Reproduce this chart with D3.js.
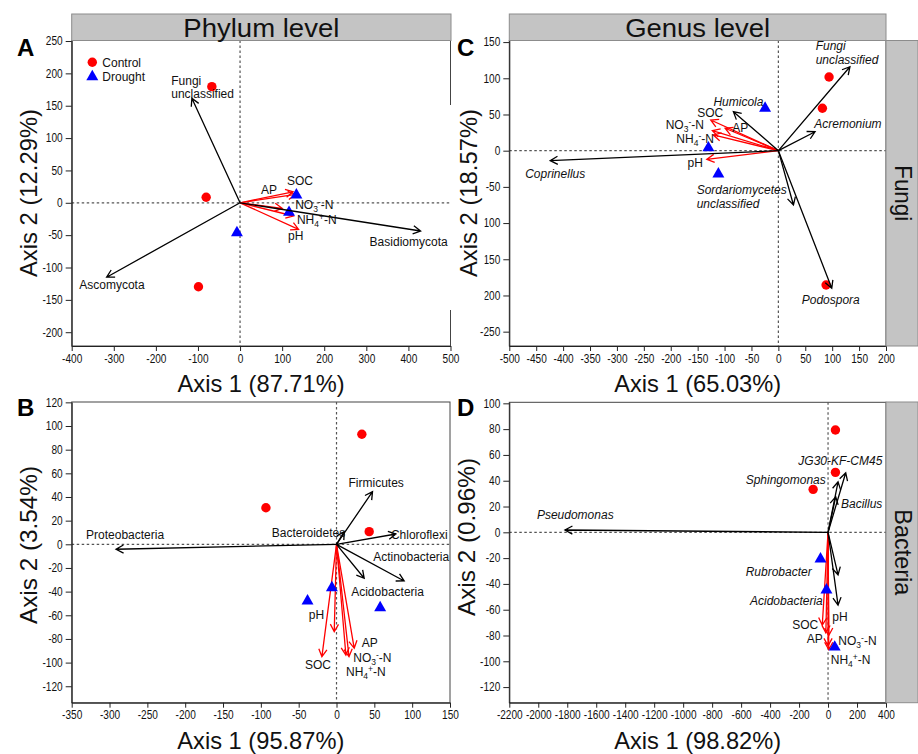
<!DOCTYPE html>
<html>
<head>
<meta charset="utf-8">
<script src="https://cdn.jsdelivr.net/npm/d3@7"></script>
<style>
  body { margin: 0; background: #fff; }
  svg { display: block; }
  text { font-family: "Liberation Sans", Arial, Helvetica, sans-serif; }
</style>
</head>
<body>
<svg id="fig" width="918" height="754"></svg>
<script>
// ---------------- Panel A: fungi, phylum level ----------------
const aControl = [[-67, 179.5], [-80.5, 8.5], [-98.8, -129.7]];
const aDrought = [[-7.4, -46.2], [133.8, 12], [116.4, -14.7]];
const aTaxa = [
  { name: "Fungi unclassified", x: -114.5, y: 161.5 },
  { name: "Ascomycota", x: -317, y: -115 },
  { name: "Basidiomycota", x: 429, y: -43.6 }
];
const aEnv = [
  { name: "SOC", x: 132, y: 13 },
  { name: "AP", x: 126, y: 17 },
  { name: "NO3--N", x: 100, y: -8.5 },
  { name: "NH4+-N", x: 127, y: -20.4 },
  { name: "pH", x: 139, y: -41 }
];
const aXTicks = [-400, -300, -200, -100, 0, 100, 200, 300, 400, 500];
const aYTicks = [250, 200, 150, 100, 50, 0, -50, -100, -150, -200];

// ---------------- Panel C: fungi, genus level ----------------
const cControl = [[94.2, 101.8], [81.8, 58.6], [88.7, -185.5]];
const cDrought = [[-24.7, 58.6], [-130, 4], [-111.5, -32.2]];
const cTaxa = [
  { name: "Fungi unclassified", x: 133, y: 116 },
  { name: "Acremonium", x: 68.2, y: 26.2 },
  { name: "Humicola", x: -83.6, y: 53.9 },
  { name: "Coprinellus", x: -424, y: -13.8 },
  { name: "Sordariomycetes unclassified", x: 28, y: -75 },
  { name: "Podospora", x: 99.2, y: -190 }
];
const cEnv = [
  { name: "SOC", x: -125.7, y: 42.4 },
  { name: "NO3--N", x: -122.7, y: 27.6 },
  { name: "AP", x: -99, y: 31 },
  { name: "NH4--N", x: -120.8, y: 21.7 },
  { name: "pH", x: -133, y: -11.9 }
];
const cXTicks = [-500, -450, -400, -350, -300, -250, -200, -150, -100, -50, 0, 50, 100, 150, 200];
const cYTicks = [150, 100, 50, 0, -50, -100, -150, -200, -250];

// ---------------- Panel B: bacteria, phylum level ----------------
const bControl = [[33.5, 93], [-93.3, 30.9], [43.2, 10.7]];
const bDrought = [[-6.1, -36.7], [-38.3, -47.9], [57.7, -53.6]];
const bTaxa = [
  { name: "Proteobacteria", x: -291.4, y: -4.2 },
  { name: "Firmicutes", x: 47.6, y: 44.5 },
  { name: "Bacteroidetes", x: 10.2, y: 10.7 },
  { name: "Chloroflexi", x: 78.5, y: 8.7 },
  { name: "Actinobacteria", x: 89.4, y: -31 },
  { name: "Acidobacteria", x: 36.6, y: -28.7 }
];
const bEnv = [
  { name: "pH", x: -3, y: -73.9 },
  { name: "SOC", x: -19.3, y: -95 },
  { name: "AP", x: 23.4, y: -87.9 },
  { name: "NO3--N", x: 12.4, y: -93.6 },
  { name: "NH4+-N", x: 16.5, y: -95 }
];
const bXTicks = [-350, -300, -250, -200, -150, -100, -50, 0, 50, 100, 150];
const bYTicks = [120, 100, 80, 60, 40, 20, 0, -20, -40, -60, -80, -100, -120];

// ---------------- Panel D: bacteria, genus level ----------------
const dControl = [[51, 79.3], [51, 46.5], [-103, 33.3]];
const dDrought = [[-52, -20.7], [-11, -44.7], [46, -89]];
const dTaxa = [
  { name: "Pseudomonas", x: -1816, y: 1.8 },
  { name: "JG30-KF-CM45", x: 122, y: 46.2 },
  { name: "Sphingomonas", x: 69, y: 39.2 },
  { name: "Bacillus", x: 53, y: 27.6 },
  { name: "Rubrobacter", x: 69, y: -33 },
  { name: "Acidobacteria", x: 69, y: -56.4 }
];
const dEnv = [
  { name: "SOC", x: -40, y: -72 },
  { name: "AP", x: -15, y: -78 },
  { name: "pH", x: 5, y: -80 },
  { name: "NO3--N", x: 0, y: -88 },
  { name: "NH4+-N", x: 5, y: -91 }
];
const dXTicks = [-2200, -2000, -1800, -1600, -1400, -1200, -1000, -800, -600, -400, -200, 0, 200, 400];
const dYTicks = [100, 80, 60, 40, 20, 0, -20, -40, -60, -80, -100, -120];

// Label placement (pixel offsets from arrow tips, text anchor)
const aPlace = {
  "Fungi unclassified": [-20.6, -13.3, "start"], "Ascomycota": [-27.4, 12, "start"],
  "Basidiomycota": [-51, 14.7, "start"], "SOC": [-8.7, -9.4, "start"], "AP": [-32, 2.2, "start"],
  "NO3--N": [13, 0.5, "start"], "NH4+-N": [3.4, 7.8, "start"], "pH": [-10.6, 10.7, "start"]
};
const cPlace = {
  "Fungi unclassified": [-34.3, -16.5, "start"], "Acremonium": [-0.8, -4.2, "start"],
  "Humicola": [-20, -6, "start"], "SOC": [-13.5, -3, "start"], "NO3--N": [-8.4, -2, "end"],
  "AP": [7.2, 4.2, "start"], "NH4--N": [0.6, 8.2, "end"], "pH": [-4, 7.6, "end"],
  "Coprinellus": [-25, 17, "start"], "Sordariomycetes unclassified": [-96.8, -10.8, "start"],
  "Podospora": [-30, 16, "start"]
};
const bPlace = {
  "Proteobacteria": [-30, -10, "start"], "Firmicutes": [-24, -4.4, "start"],
  "Bacteroidetes": [1, 5.7, "end"], "Chloroflexi": [-5, 5, "start"],
  "Actinobacteria": [-31, -20, "start"], "Acidobacteria": [-13, 17.5, "start"],
  "SOC": [-17, 12.7, "start"], "pH": [-25.5, -12.4, "start"], "AP": [7.5, -1, "start"],
  "NO3--N": [7.4, 6.7, "start"], "NH4+-N": [-3, 19.8, "start"]
};
const dPlace = {
  "Pseudomonas": [-28, -10.7, "start"], "JG30-KF-CM45": [-47.4, -7.7, "start"],
  "Sphingomonas": [-12.3, 2, "end"], "Bacillus": [5.3, 11.6, "start"],
  "Rubrobacter": [-26.3, 1, "end"], "Acidobacteria": [-15.3, 0, "end"],
  "SOC": [-4, 3.8, "end"], "AP": [-3, 10.5, "end"], "pH": [3.6, -14.5, "start"],
  "NO3--N": [10.3, -0.8, "start"], "NH4+-N": [2, 14, "start"]
};

// Chemical names with sub/superscripts
const richNames = {
  "NO3--N": [["NO", ""], ["3", "sub"], ["-", "sup"], ["-N", ""]],
  "NH4+-N": [["NH", ""], ["4", "sub"], ["+", "sup"], ["-N", ""]],
  "NH4--N": [["NH", ""], ["4", "sub"], ["-", "sup"], ["-N", ""]]
};

const panels = [
  { letter: "A", frame: [71.7, 40.5, 450.5, 346], xDomain: [-400, 500], yDomain: [-221.3, 250.8],
    xTicks: aXTicks, yTicks: aYTicks, control: aControl, drought: aDrought, taxa: aTaxa, env: aEnv,
    place: aPlace, italic: false, xTitle: "Axis 1 (87.71%)", yTitle: "Axis 2 (12.29%)",
    letterPos: [17, 56], yTitlePos: [37, 193], legend: true },
  { letter: "C", frame: [509.3, 40.5, 886, 346], xDomain: [-500, 200], yDomain: [-269.8, 152.2],
    xTicks: cXTicks, yTicks: cYTicks, control: cControl, drought: cDrought, taxa: cTaxa, env: cEnv,
    place: cPlace, italic: true, xTitle: "Axis 1 (65.03%)", yTitle: "Axis 2 (18.57%)",
    letterPos: [457, 56], yTitlePos: [477, 193], titleMask: true },
  { letter: "B", frame: [71.7, 402, 450, 702.7], xDomain: [-350, 150], yDomain: [-133.9, 120.3],
    xTicks: bXTicks, yTicks: bYTicks, control: bControl, drought: bDrought, taxa: bTaxa, env: bEnv,
    place: bPlace, italic: false, xTitle: "Axis 1 (95.87%)", yTitle: "Axis 2 (3.54%)",
    letterPos: [17, 416], yTitlePos: [37, 545] },
  { letter: "D", frame: [509.3, 402.3, 886, 702.7], xDomain: [-2200, 400], yDomain: [-132.1, 100.8],
    xTicks: dXTicks, yTicks: dYTicks, control: dControl, drought: dDrought, taxa: dTaxa, env: dEnv,
    place: dPlace, italic: true, xTitle: "Axis 1 (98.82%)", yTitle: "Axis 2 (0.96%)",
    letterPos: [457, 416], yTitlePos: [475, 537] }
];

const RED = "#ff0000", BLUE = "#0000ff";
const svg = d3.select("#fig");
svg.append("rect").attr("width", 918).attr("height", 754).attr("fill", "#fff");

function squeeze(sel, k) {
  sel.each(function () {
    const w = this.getComputedTextLength();
    if (w > 0) {
      this.setAttribute("textLength", (w * k).toFixed(2));
      this.setAttribute("lengthAdjust", "spacingAndGlyphs");
    }
  });
}

function arrowPath(x0, y0, x1, y1) {
  const len = 8.5, ang = 0.5;
  const a = Math.atan2(y1 - y0, x1 - x0);
  const hx1 = x1 - len * Math.cos(a - ang), hy1 = y1 - len * Math.sin(a - ang);
  const hx2 = x1 - len * Math.cos(a + ang), hy2 = y1 - len * Math.sin(a + ang);
  return `M${x0},${y0}L${x1},${y1}M${hx1},${hy1}L${x1},${y1}L${hx2},${hy2}`;
}

function writeName(textSel, name) {
  const parts = richNames[name];
  if (!parts) { textSel.text(name); return; }
  let shift = 0;
  parts.forEach(([s, kind]) => {
    const t = textSel.append("tspan").text(s);
    let target = 0;
    if (kind === "sub") { target = 3; t.attr("font-size", "8.5px"); }
    else if (kind === "sup") { target = -4; t.attr("font-size", "8.5px"); }
    t.attr("dy", target - shift);
    shift = target;
  });
}

function drawLabel(g, x, y, name, anchor, italic) {
  const lines = name.endsWith(" unclassified")
    ? [name.replace(" unclassified", ""), "unclassified"] : [name];
  lines.forEach((ln, i) => {
    const t = g.append("text")
      .attr("x", x).attr("y", y + i * 13.5)
      .attr("text-anchor", anchor)
      .attr("font-size", "12px")
      .attr("fill", "#111")
      .attr("font-style", italic ? "italic" : "normal");
    writeName(t, ln);
  });
}

panels.forEach(p => {
  const [fx0, fy0, fx1, fy1] = p.frame;
  const x = d3.scaleLinear().domain(p.xDomain).range([fx0, fx1]);
  const y = d3.scaleLinear().domain(p.yDomain).range([fy1, fy0]);
  const g = svg.append("g");

  // frame
  g.append("rect").attr("x", fx0).attr("y", fy0).attr("width", fx1 - fx0).attr("height", fy1 - fy0)
    .attr("fill", "#fff").attr("stroke", "#444").attr("stroke-width", 1);

  // zero reference lines
  g.append("line").attr("x1", x(0)).attr("x2", x(0)).attr("y1", fy0).attr("y2", fy1)
    .attr("stroke", "#555").attr("stroke-width", 1.2).attr("stroke-dasharray", "2.5,2.5");
  g.append("line").attr("x1", fx0).attr("x2", fx1).attr("y1", y(0)).attr("y2", y(0))
    .attr("stroke", "#555").attr("stroke-width", 1.2).attr("stroke-dasharray", "2.5,2.5");

  // environmental vectors (red)
  g.selectAll(".env").data(p.env).join("path")
    .attr("d", d => arrowPath(x(0), y(0), x(d.x), y(d.y)))
    .attr("fill", "none").attr("stroke", RED).attr("stroke-width", 1.3);

  // samples
  g.selectAll(".ctl").data(p.control).join("circle")
    .attr("cx", d => x(d[0])).attr("cy", d => y(d[1])).attr("r", 4.7).attr("fill", RED);
  g.selectAll(".drt").data(p.drought).join("path")
    .attr("d", d3.symbol(d3.symbolTriangle, 62)())
    .attr("transform", d => `translate(${x(d[0])},${y(d[1])})`).attr("fill", BLUE);

  // taxon vectors (black)
  g.selectAll(".taxa").data(p.taxa).join("path")
    .attr("d", d => arrowPath(x(0), y(0), x(d.x), y(d.y)))
    .attr("fill", "none").attr("stroke", "#000").attr("stroke-width", 1.3);

  // labels
  p.taxa.forEach(d => {
    const [dx, dy, anc] = p.place[d.name];
    drawLabel(g, x(d.x) + dx, y(d.y) + dy, d.name, anc, p.italic);
  });
  p.env.forEach(d => {
    const [dx, dy, anc] = p.place[d.name];
    drawLabel(g, x(d.x) + dx, y(d.y) + dy, d.name, anc, false);
  });

  // axes
  const ax = g.append("g").attr("transform", `translate(0,${fy1})`)
    .call(d3.axisBottom(x).tickValues(p.xTicks).tickFormat(d => String(d))
      .tickSize(5).tickSizeOuter(0).tickPadding(3));
  const ay = g.append("g").attr("transform", `translate(${fx0},0)`)
    .call(d3.axisLeft(y).tickValues(p.yTicks).tickFormat(d => String(d))
      .tickSize(6).tickSizeOuter(0).tickPadding(3));
  [ax, ay].forEach(a => {
    a.select(".domain").attr("stroke", "#222");
    a.selectAll(".tick line").attr("stroke", "#222");
    a.selectAll("text").attr("font-family", '"Liberation Sans", Arial, sans-serif')
      .attr("font-size", "12px").attr("fill", "#111");
    squeeze(a.selectAll("text"), 0.84);
  });

  // axis titles
  if (p.titleMask) {
    g.append("rect").attr("x", 450).attr("y", p.yTitlePos[1] - 88)
      .attr("width", 34.5).attr("height", 205).attr("fill", "#fff");
  }
  g.append("text").attr("x", (fx0 + fx1) / 2).attr("y", fy1 + 46)
    .attr("text-anchor", "middle").attr("font-size", "24px").attr("fill", "#111")
    .attr("textLength", 167).attr("lengthAdjust", "spacingAndGlyphs").text(p.xTitle);
  g.append("text").attr("transform", `translate(${p.yTitlePos[0]},${p.yTitlePos[1]}) rotate(-90)`)
    .attr("text-anchor", "middle").attr("font-size", "24px").attr("fill", "#111")
    .attr("textLength", p.yTitle.length > 14 ? 168 : 158).attr("lengthAdjust", "spacingAndGlyphs")
    .text(p.yTitle);

  // panel letter
  g.append("text").attr("x", p.letterPos[0]).attr("y", p.letterPos[1])
    .attr("font-size", "24px").attr("font-weight", "bold").attr("fill", "#000").text(p.letter);

  // legend
  if (p.legend) {
    const lg = g.append("g");
    lg.append("circle").attr("cx", 92.3).attr("cy", 62.3).attr("r", 4.7).attr("fill", RED);
    lg.append("path").attr("d", d3.symbol(d3.symbolTriangle, 62)())
      .attr("transform", "translate(92.3,76.7)").attr("fill", BLUE);
    lg.append("text").attr("x", 102.3).attr("y", 66.5).attr("font-size", "12px").attr("fill", "#111").text("Control");
    lg.append("text").attr("x", 102.3).attr("y", 80.5).attr("font-size", "12px").attr("fill", "#111").text("Drought");
  }
});

// strip headers
const stripFill = "#c4c4c4", stripStroke = "#8c8c8c";
const topStrips = [
  { text: "Phylum level", x0: 71.7, x1: 451 },
  { text: "Genus level", x0: 509.3, x1: 886 }
];
topStrips.forEach(s => {
  svg.append("rect").attr("x", s.x0).attr("y", 14).attr("width", s.x1 - s.x0).attr("height", 26.5)
    .attr("fill", stripFill).attr("stroke", stripStroke);
  svg.append("text").attr("x", (s.x0 + s.x1) / 2).attr("y", 36.5).attr("text-anchor", "middle")
    .attr("font-size", "25px").attr("fill", "#111")
    .attr("textLength", s.text === "Phylum level" ? 156 : 145).attr("lengthAdjust", "spacingAndGlyphs")
    .text(s.text);
});
const sideStrips = [
  { text: "Fungi", y0: 40.5, y1: 346, len: 56 },
  { text: "Bacteria", y0: 402, y1: 702.7, len: 86 }
];
sideStrips.forEach(s => {
  svg.append("rect").attr("x", 886).attr("y", s.y0).attr("width", 32).attr("height", s.y1 - s.y0)
    .attr("fill", stripFill).attr("stroke", stripStroke);
  svg.append("text").attr("transform", `translate(895,${(s.y0 + s.y1) / 2}) rotate(90)`)
    .attr("text-anchor", "middle").attr("font-size", "24px").attr("fill", "#111")
    .attr("textLength", s.len).attr("lengthAdjust", "spacingAndGlyphs").text(s.text);
});
</script>
</body>
</html>
